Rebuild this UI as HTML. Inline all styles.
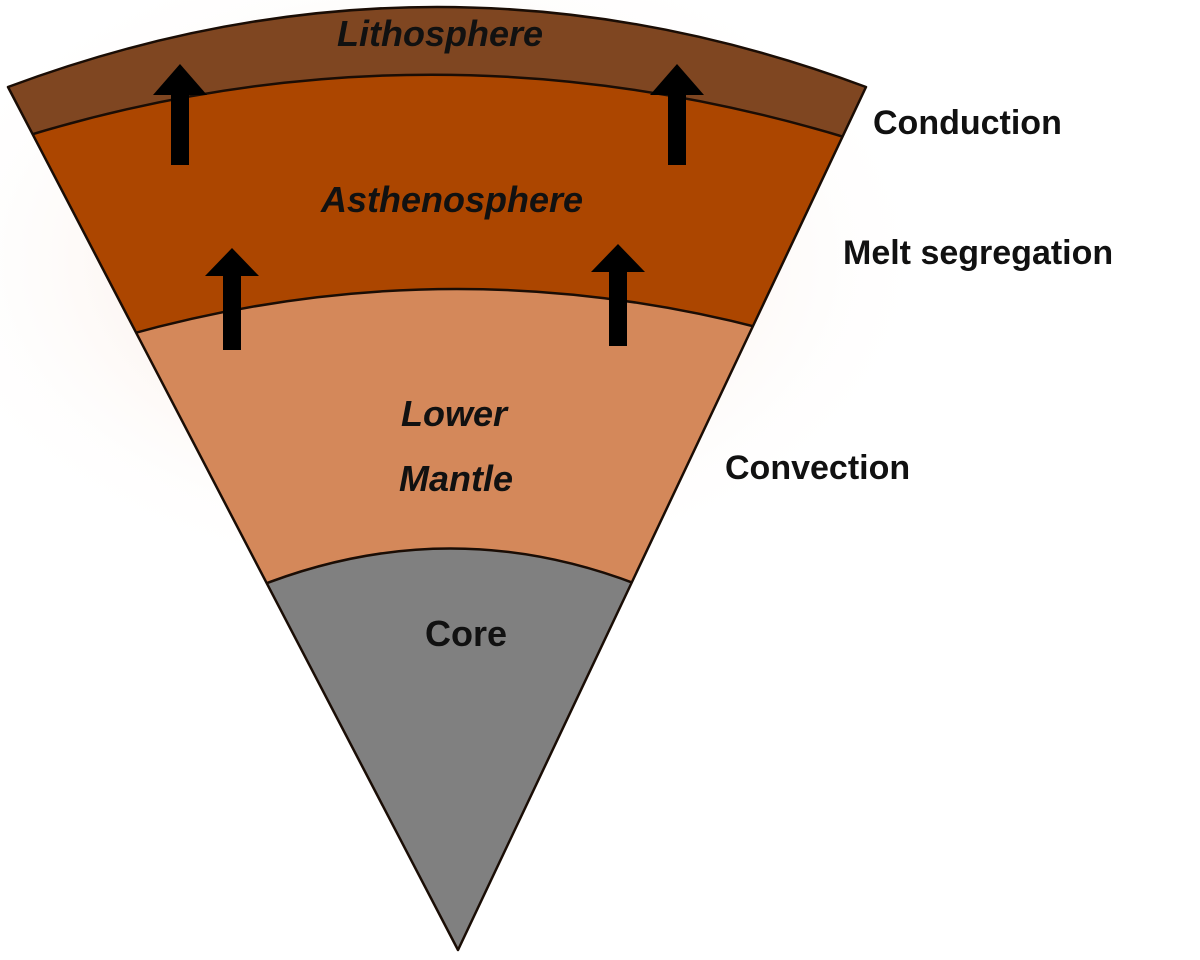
<!DOCTYPE html>
<html><head><style>
html,body{margin:0;padding:0;width:1200px;height:960px;overflow:hidden;background:#fff;}
</style></head><body>
<svg width="1200" height="960" viewBox="0 0 1200 960" xmlns="http://www.w3.org/2000/svg">
<defs>
<radialGradient id="glow" cx="0.5" cy="0.5" r="0.5">
<stop offset="0" stop-color="#e8b090" stop-opacity="0.55"/>
<stop offset="1" stop-color="#ffffff" stop-opacity="0"/>
</radialGradient>
<clipPath id="w"><path d="M8,87 Q437,-73 866,87 L458,950 Z"/></clipPath>
</defs>
<ellipse cx="420" cy="260" rx="520" ry="330" fill="url(#glow)"/>
<g clip-path="url(#w)">
<rect x="0" y="0" width="900" height="960" fill="#808080"/>
<path d="M0,0 L900,0 L900,596 L665,596 Q453,502 240,594 L0,594 Z" fill="#d4885a"/>
<path d="M0,0 L900,0 L900,336 L790,336 Q450,240 110,340 L0,340 Z" fill="#ac4600"/>
<path d="M0,0 L900,0 L900,145 L870,145 Q440,8 20,138 L0,138 Z" fill="#7f4621"/>
<g fill="none" stroke="#1a0d05" stroke-width="2.5">
<path d="M20,138 Q440,8 870,145"/>
<path d="M110,340 Q450,240 790,336"/>
<path d="M240,594 Q453,502 665,596"/>
</g>
</g>
<path d="M8,87 Q437,-73 866,87 L458,950 Z" fill="none" stroke="#1a0d05" stroke-width="2.5" stroke-linejoin="round"/>
<g fill="#000">
<path d="M171,165 L189,165 L189,95 L207,95 L180,64 L153,95 L171,95 Z"/>
<path d="M668,165 L686,165 L686,95 L704,95 L677,64 L650,95 L668,95 Z"/>
<path d="M223,350 L241,350 L241,276 L259,276 L232,248 L205,276 L223,276 Z"/>
<path d="M609,346 L627,346 L627,272 L645,272 L618,244 L591,272 L609,272 Z"/>
</g>
<g font-family="Liberation Sans, sans-serif" font-weight="bold" fill="#111">
<g font-style="italic" text-anchor="middle" font-size="36">
<text x="440" y="46">Lithosphere</text>
<text x="452" y="212">Asthenosphere</text>
<text x="454" y="426">Lower</text>
<text x="456" y="491">Mantle</text>
</g>
<text x="466" y="646" text-anchor="middle" font-size="36">Core</text>
<g font-size="34">
<text x="873" y="134">Conduction</text>
<text x="843" y="264">Melt segregation</text>
<text x="725" y="479">Convection</text>
</g>
</g>
</svg>
</body></html>
